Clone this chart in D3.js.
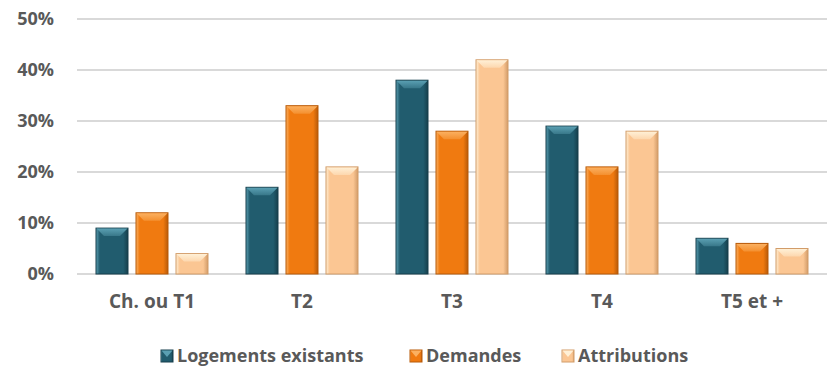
<!DOCTYPE html>
<html>
<head>
<meta charset="utf-8">
<script src="https://cdn.jsdelivr.net/npm/d3@7"></script>
<style>
  body { margin: 0; background: #fff; }
  text { font-family: 'Open Sans', sans-serif; font-weight: bold; fill: #595959; }
</style>
</head>
<body>
<div id="chart"></div>
<script>
const categories = ['Ch. ou T1', 'T2', 'T3', 'T4', 'T5 et +']
const seriesNames = ['Logements existants', 'Demandes', 'Attributions']
const logements = [9, 17, 38, 29, 7]
const demandes = [12, 33, 28, 21, 6]
const attributions = [4, 21, 42, 28, 5]
const yTicks = [0, 10, 20, 30, 40, 50]

const series = [logements, demandes, attributions]
// base, light, dark for each series
const colors = [
  { base: '#215c6e', light: '#5a9fb2', dark: '#163f4c' },
  { base: '#f07a10', light: '#fbb060', dark: '#b85a08' },
  { base: '#fbc693', light: '#fff0d6', dark: '#d29c69' }
]

const width = 834, height = 372
const margin = { top: 19, right: 7, bottom: 98, left: 77 }
const innerW = width - margin.left - margin.right
const innerH = height - margin.top - margin.bottom

const svg = d3.select('#chart').append('svg')
  .attr('width', width)
  .attr('height', height)

const defs = svg.append('defs')
colors.forEach((c, i) => {
  const g = defs.append('linearGradient').attr('id', 'grad' + i)
    .attr('x1', 0).attr('x2', 1).attr('y1', 0).attr('y2', 0)
  g.append('stop').attr('offset', '0%').attr('stop-color', c.light)
  g.append('stop').attr('offset', '12%').attr('stop-color', c.base)
  g.append('stop').attr('offset', '85%').attr('stop-color', c.base)
  g.append('stop').attr('offset', '100%').attr('stop-color', c.dark)
  const t = defs.append('linearGradient').attr('id', 'top' + i)
    .attr('x1', 0).attr('x2', 0).attr('y1', 0).attr('y2', 1)
  t.append('stop').attr('offset', '0%').attr('stop-color', c.light)
  t.append('stop').attr('offset', '100%').attr('stop-color', d3.interpolateRgb(c.light, c.base)(0.6))
})

const chart = svg.append('g')
  .attr('transform', 'translate(' + margin.left + ',' + margin.top + ')')

const x = d3.scaleBand().domain(categories).range([0, innerW])
const xInner = d3.scaleBand().domain(d3.range(series.length)).range([0, 112]).paddingInner(0.2)
const y = d3.scaleLinear().domain([0, 50]).range([innerH, 0])

// gridlines
chart.append('g')
  .selectAll('line')
  .data(yTicks)
  .join('line')
  .attr('x1', 0).attr('x2', innerW)
  .attr('y1', d => y(d)).attr('y2', d => y(d))
  .attr('stroke', '#d9d9d9')
  .attr('stroke-width', 2)

// y axis labels
const yAxis = d3.axisLeft(y).tickValues(yTicks).tickFormat(d => d + '%').tickSize(0).tickPadding(23)
chart.append('g')
  .call(yAxis)
  .call(g => g.select('.domain').remove())
  .selectAll('text')
  .style('font-size', '18px')
  .attr('fill', '#595959')

// x axis labels
const xAxis = d3.axisBottom(x).tickSize(0).tickPadding(21)
chart.append('g')
  .attr('transform', 'translate(0,' + innerH + ')')
  .call(xAxis)
  .call(g => g.select('.domain').remove())
  .selectAll('text')
  .style('font-size', '19px')
  .attr('fill', '#595959')

// bars
const bevel = 8
series.forEach((values, si) => {
  const g = chart.append('g')
  const bars = g.selectAll('g')
    .data(values.map((v, i) => ({ cat: categories[i], v })))
    .join('g')
    .attr('transform', d => 'translate(' + (x(d.cat) + (x.bandwidth() - 112) / 2 + xInner(si)) + ',0)')
  const bw = xInner.bandwidth()
  bars.append('rect')
    .attr('x', 0)
    .attr('y', d => y(d.v))
    .attr('width', bw)
    .attr('height', d => innerH - y(d.v))
    .attr('fill', 'url(#grad' + si + ')')
    .attr('stroke', colors[si].dark)
    .attr('stroke-width', 1)
  bars.append('polygon')
    .attr('points', d => {
      const t = y(d.v)
      const b = Math.min(bevel, (innerH - t) / 2)
      return [[0.5, t + 0.5], [bw - 0.5, t + 0.5], [bw - b, t + b], [b, t + b]].join(' ')
    })
    .attr('fill', 'url(#top' + si + ')')
})

// legend
const legendItems = [
  { name: seriesNames[0], x: 161 },
  { name: seriesNames[1], x: 410 },
  { name: seriesNames[2], x: 562 }
]
const legend = svg.append('g').attr('transform', 'translate(0,356)')
legendItems.forEach((item, i) => {
  const lg = legend.append('g').attr('transform', 'translate(' + item.x + ',0)')
  lg.append('rect')
    .attr('x', 0).attr('y', -6)
    .attr('width', 12).attr('height', 12)
    .attr('fill', 'url(#grad' + i + ')')
    .attr('stroke', colors[i].dark)
  lg.append('polygon')
    .attr('points', '0.5,-5.5 11.5,-5.5 6,1')
    .attr('fill', colors[i].light)
  lg.append('text')
    .attr('x', 16)
    .attr('dy', '0.35em')
    .style('font-size', '18px')
    .text(item.name)
})
</script>
</body>
</html>
